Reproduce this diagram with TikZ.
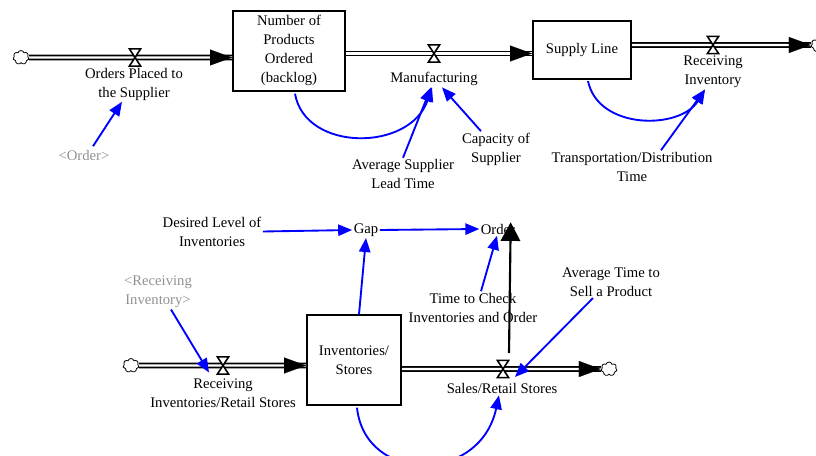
\documentclass[tikz,border=0pt]{standalone}
\usepackage{fontspec}
\setmainfont{Liberation Serif}
\usetikzlibrary{arrows.meta,shapes.symbols,calc}
\definecolor{linkblue}{RGB}{0,0,255}
\definecolor{shadowgray}{RGB}{145,145,145}
\newcommand\mkvalve[2]{%
  \node[valvebox] (#1) at (#2) {};
  \filldraw[fill=white, line width=1.2pt, line join=miter] (#1.north west) -- (#1.north east) -- (#1.south west) -- (#1.south east) -- cycle;}
\begin{document}
\begin{tikzpicture}[x=0.75pt,y=-0.75pt,
  every node/.style={font=\fontsize{11}{14.25}\selectfont, align=center, inner sep=1pt},
  stock/.style={draw, line width=1.5pt, inner sep=0pt},
  valvebox/.style={inner sep=0pt, minimum width=8pt, minimum height=12.5pt},
  cloudy/.style={cloud, cloud puffs=7, draw, line width=0.6pt, fill=white, inner sep=0pt, minimum width=12pt, minimum height=10.5pt},
  pipe/.style={double=white, double distance=1.6pt, line width=1.4pt},
  pipehead/.style={line width=0.1pt, -{Triangle[length=16.5pt,width=12pt]}},
  link/.style={draw=linkblue, line width=1.4pt, -{Triangle[length=10.5pt,width=8.5pt]}},
  ctrl/.style={draw=black, line width=1.6pt, -{Triangle[length=14pt,width=14.5pt]}},
  shadow/.style={text=shadowgray}
]
\useasboundingbox (0,0) rectangle (816,456);

% ---------- stocks ----------
\node[stock, minimum width=84pt, minimum height=60pt] (box1) at (289,50.7) {Number of\\Products\\Ordered\\(backlog)};
\node[stock, minimum width=73.5pt, minimum height=43.5pt] (box2) at (582,50) {Supply Line};
\node[stock, minimum width=70.5pt, minimum height=67pt] (box3) at (354,360) {Inventories/\\Stores};

% ---------- clouds ----------
\node[cloudy] (c1) at (21,57.5) {};
\node[cloudy] (c3) at (819,45) {};
\node[cloudy] (c4) at (131,365.5) {};
\node[cloudy] (c5) at (609,369) {};

% ---------- pipes ----------
\draw[pipe] (c1) -- (box1.west |- c1);
\draw[pipehead] ($(box1.west |- c1)+(-22,0)$) -- (box1.west |- c1);
\coordinate (p2) at (434,53.5);
\draw[pipe] (box1.east |- p2) -- (box2.west |- p2);
\draw[pipehead] ($(box2.west |- p2)+(-22,0)$) -- (box2.west |- p2);
\draw[pipe] (box2.east |- c3) -- (c3);
\draw[pipehead] ($(c3.west)+(-22,0)$) -- (c3.west);
\draw[pipe] (c4) -- (box3.west |- c4);
\draw[pipehead] ($(box3.west |- c4)+(-22,0)$) -- (box3.west |- c4);
\draw[pipe] (box3.east |- c5) -- (c5);
\draw[pipehead] ($(c5.west)+(-22,0)$) -- (c5.west);

% ---------- valves ----------
\mkvalve{v1}{135,57.5}
\mkvalve{v2}{434,53.5}
\mkvalve{v3}{713,45}
\mkvalve{v4}{223,365.5}
\mkvalve{v5}{503,369}

% ---------- labels ----------
\node (lab1) at (134,84) {Orders Placed to\\the Supplier};
\node (lab2) at (434,79) {Manufacturing};
\node (lab3) at (713,72) {Receiving\\Inventory};
\node[shadow] (order0) at (84,155) {<Order>};
\node (avgsup) at (403,174) {Average Supplier\\Lead Time};
\node (capsup) at (496,149) {Capacity of\\Supplier};
\node (transp) at (632,166.5) {Transportation/Distribution\\Time};
\node (desired) at (212,231.5) {Desired Level of\\Inventories};
\node (gap) at (366,230) {Gap};
\node (order) at (498,229) {Order};
\node (timecheck) at (473,307.5) {Time to Check\\Inventories and Order};
\node (avgsell) at (611,282) {Average Time to\\Sell a Product};
\node[shadow] (recinv) at (158,292) {<Receiving\\Inventory>};
\node (lab4) at (223,393) {Receiving\\Inventories/Retail Stores};
\node (lab5) at (502,388.5) {Sales/Retail Stores};

% ---------- links ----------
\draw[link] ($(order0.north)+(9,-2)$) -- ($(lab1.south)+(-12,0)$);
\draw[link] ($(box1.south)+(6,2)$) .. controls (305,152) and (410,152) .. ($(lab2.south)+(-2,0)$);
\draw[link] (avgsup.north) -- ($(lab2.south)+(-3,0)$);
\draw[link] ($(capsup.north)+(-15,0)$) -- ($(lab2.south)+(8,0)$);
\draw[link] ($(box2.south)+(6,1)$) .. controls (598,130) and (680,130) .. ($(lab3.south)+(-8,0)$);
\draw[link] ($(transp.north)+(29,0)$) -- ($(lab3.south)+(-8,0)$);
\draw[link] (desired.east) -- (gap.west);
\draw[link] (gap.east) -- (order.west);
\draw[link] ($(box3.north)+(5,0)$) -- (gap.south);
\draw[link] ($(timecheck.north)+(8,0)$) -- ($(order.south)+(-1,0)$);
\draw[link] ($(avgsell.south)+(-18,0)$) -- ($(v5)+(12,8)$);
\draw[link] ($(recinv.south)+(13,0)$) -- ($(v4)+(-14,7)$);
\draw[link] ($(box3.south)+(3,2)$) .. controls (365,484) and (480,484) .. ($(lab5.south)+(-3,0)$);
\draw[ctrl] ($(v5)+(6,-16)$) -- ($(order.north east)+(-6,0)$);
\end{tikzpicture}
\end{document}
